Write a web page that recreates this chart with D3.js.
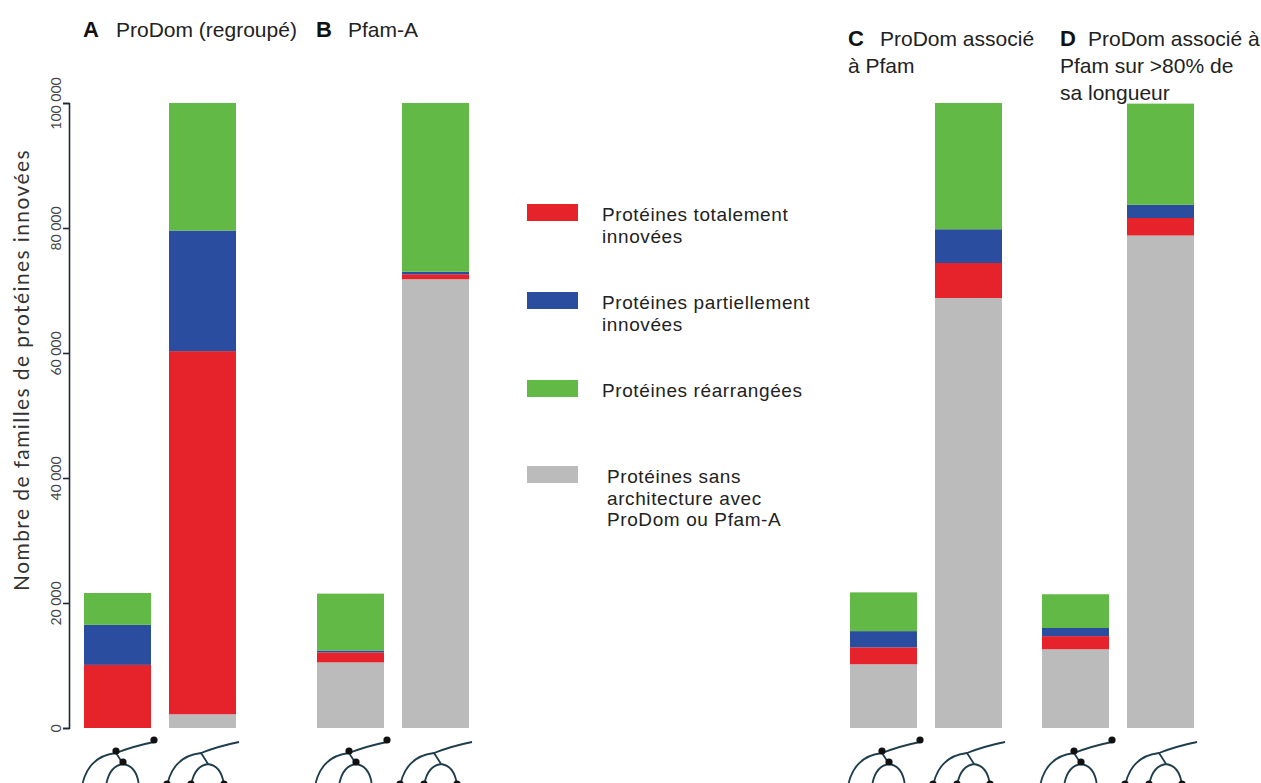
<!DOCTYPE html>
<html><head><meta charset="utf-8">
<script src="https://cdn.jsdelivr.net/npm/d3@7"></script>
<style>body{margin:0;background:#fff}</style>
</head><body>
<svg id="chart" width="1261" height="783"></svg>
<script>
// ---- data ----
const panels = ["A","B","C","D"];
const panelTitles = [
  ["ProDom (regroupé)"],
  ["Pfam-A"],
  ["ProDom associé", "à Pfam"],
  ["ProDom associé à", "Pfam sur >80% de", "sa longueur"]
];
const barKinds = ["petit","grand"];
const series = ["gris","rouge","bleu","vert"];
const seriesLabels = [
  ["Protéines sans", "architecture avec", "ProDom ou Pfam-A"],
  ["Protéines totalement", "innovées"],
  ["Protéines partiellement", "innovées"],
  ["Protéines réarrangées"]
];
const legendOrder = ["rouge","bleu","vert","gris"];
const grisValues  = [0,    2200, 10500, 71800, 10200, 68800, 12600, 78800];
const rougeValues = [10100,58100, 1600,   800,  2700,  5600,  2100,  2800];
const bleuValues  = [6400, 19300,  300,   400,  2600,  5400,  1300,  2100];
const vertValues  = [5100, 20400, 9100, 27000,  6200, 20200,  5400, 16200];
const yTicks = [0, 20000, 40000, 60000, 80000, 100000];
const yTickLabels = ["0","20 000","40 000","60 000","80 000","100 000"];
const yTitle = "Nombre de familles de protéines innovées";

// ---- layout ----
const svg = d3.select("#chart");
const colors = {rouge:"#e6222a", bleu:"#2a4d9f", vert:"#62b946", gris:"#bbbbbb"};
const y = d3.scaleLinear().domain([0,100000]).range([728,103]);
const panelX = d3.scaleOrdinal().domain(panels).range([84, 317, 850, 1042]);
const inner = d3.scaleBand().domain(barKinds).range([0,152]).paddingInner(0.212).paddingOuter(0);

const bars = [];
panels.forEach((p,pi)=>barKinds.forEach((k,ki)=>{
  const i = pi*2+ki;
  bars.push({panel:p, kind:k, gris:grisValues[i], rouge:rougeValues[i], bleu:bleuValues[i], vert:vertValues[i]});
}));
const stack = d3.stack().keys(series)(bars);

const gBars = svg.append("g");
stack.forEach(layer=>{
  gBars.selectAll(null).data(layer).join("rect")
    .attr("x", d=>panelX(d.data.panel)+inner(d.data.kind))
    .attr("width", inner.bandwidth())
    .attr("y", d=>y(d[1]))
    .attr("height", d=>Math.max(0, y(d[0])-y(d[1])))
    .attr("fill", colors[layer.key]);
});

// axis
const axis = d3.axisLeft(y).tickValues(yTicks).tickFormat((d,i)=>yTickLabels[i]).tickSizeOuter(0).tickSize(6);
const gAxis = svg.append("g").attr("transform","translate(69,0)").call(axis);
gAxis.select(".domain").attr("stroke","#1c2a38").attr("stroke-width",1.6);
gAxis.selectAll(".tick line").attr("stroke","#1c2a38").attr("stroke-width",1.6);
gAxis.selectAll(".tick text")
  .attr("transform","rotate(-90)")
  .attr("x", 0).attr("y", -8).attr("dy", 0)
  .attr("text-anchor","middle")
  .style("font-family","Lato, 'Open Sans', sans-serif").style("font-size","14px").attr("fill","#444");

svg.append("text").attr("transform","translate(29,370) rotate(-90)")
  .attr("text-anchor","middle")
  .style("font-family","Lato, sans-serif").style("font-size","21px").style("letter-spacing","1.4px").attr("fill","#333")
  .text(yTitle);

// titles
const titleFont = "'Liberation Sans', Arial, sans-serif";
const titlePos = {A:{x:83,y:37,tx:116}, B:{x:316,y:37,tx:348}, C:{x:848,y:46,tx:880}, D:{x:1060,y:46,tx:1088}};
panels.forEach((p,pi)=>{
  const tp = titlePos[p];
  svg.append("text").attr("x",tp.x).attr("y",tp.y).style("font-family",titleFont)
    .style("font-size","22px").style("font-weight","bold").attr("fill","#111").text(p);
  panelTitles[pi].forEach((line,li)=>{
    svg.append("text").attr("x", li===0?tp.tx:tp.x).attr("y", tp.y+li*27)
      .style("font-family",titleFont).style("font-size","21px").attr("fill","#222").text(line);
  });
});

// legend
const legendY = {rouge:204, bleu:292, vert:380, gris:466};
legendOrder.forEach(key=>{
  const si = series.indexOf(key);
  const ly = legendY[key];
  svg.append("rect").attr("x",527).attr("y",ly).attr("width",51).attr("height",17).attr("fill",colors[key]);
  const tx = key==="gris"?607:602;
  seriesLabels[si].forEach((line,li)=>{
    svg.append("text").attr("x",tx).attr("y",ly+17+li*21.5)
      .style("font-family",titleFont).style("font-size","19px").style("letter-spacing","0.6px")
      .attr("fill","#222").text(line);
  });
});

// tree glyphs below bars
const gTree = svg.append("g");
bars.forEach(b=>{
  const bx = panelX(b.panel)+inner(b.kind);
  const by = 728;
  const P = (dx,dy)=>[bx+dx, by+dy];
  const L1=P(-2,58), N1=P(32,25), T=P(70,14), N2=P(39,36), L2=P(22,58), L3=P(55,58);
  const path = d3.path();
  path.moveTo(...L1); path.quadraticCurveTo(bx+4, by+28, ...N1);
  path.quadraticCurveTo(bx+50, by+18, ...T);
  path.moveTo(...N1); path.quadraticCurveTo(bx+36, by+31, ...N2);
  path.moveTo(...L2); path.quadraticCurveTo(bx+25, by+38, ...N2);
  path.quadraticCurveTo(bx+53, by+38, ...L3);
  gTree.append("path").attr("d", path.toString()).attr("fill","none")
    .attr("stroke","#1e3d4c").attr("stroke-width",1.8);
  const dots = b.kind==="petit" ? [N1,N2,T] : [L1,L2,L3];
  gTree.selectAll(null).data(dots).join("circle").attr("cx",d=>d[0]).attr("cy",d=>d[1]-2)
    .attr("r",3.6).attr("fill","#111");
});
</script>
</body></html>
